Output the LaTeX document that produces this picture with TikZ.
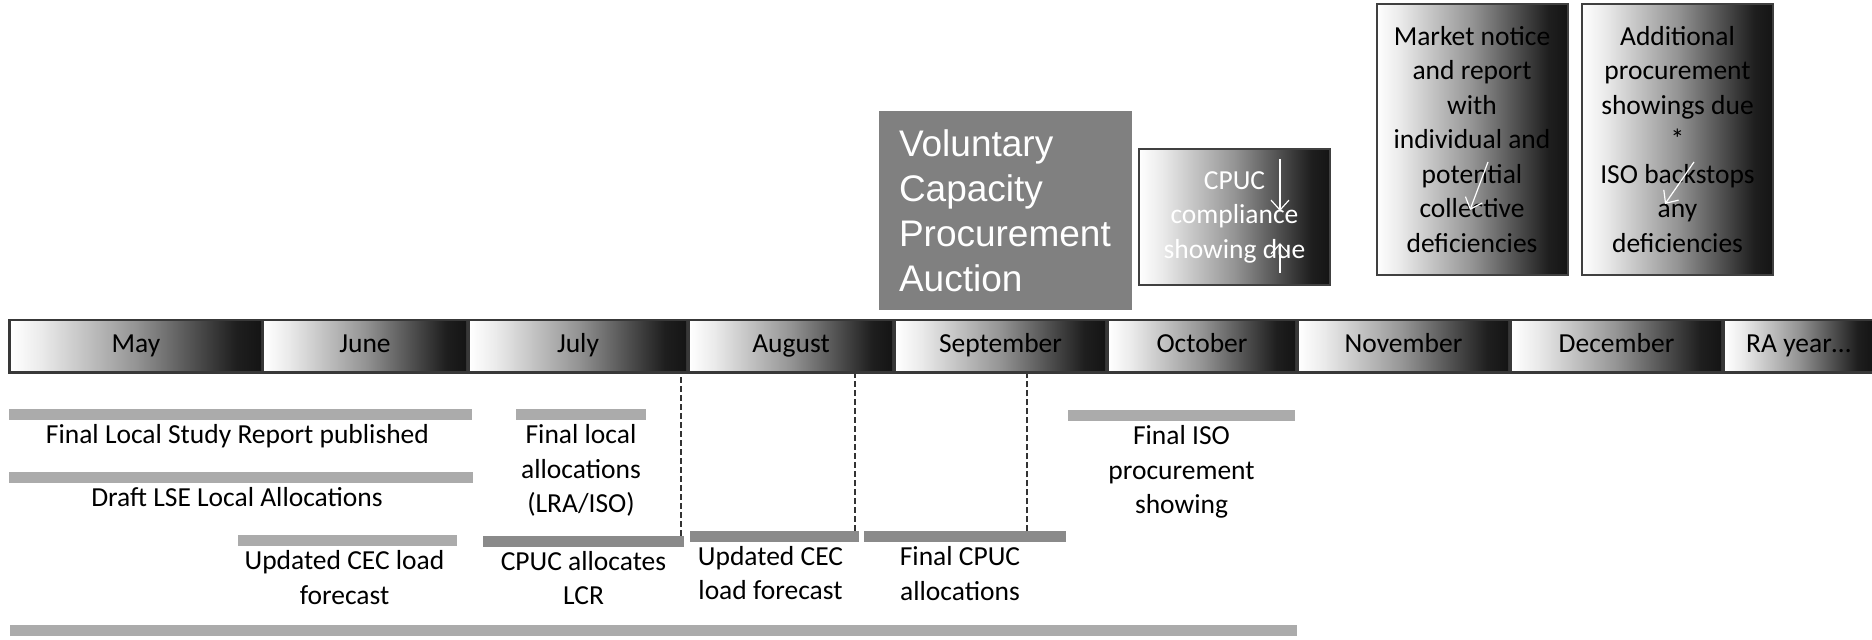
\documentclass[tikz,border=0pt]{standalone}
\usepackage{fontspec}
\setmainfont{Carlito}
\newfontfamily\auctionfont{Liberation Sans}
\usepackage{tikz}
\usetikzlibrary{arrows.meta,positioning}
\usepackage{xcolor}

\pgfdeclarehorizontalshading{fade}{100bp}{color(0bp)=(white); color(25bp)=(white); color(31bp)=(black!8); color(50bp)=(black!42); color(63bp)=(black!72); color(70bp)=(black!88); color(75bp)=(black!92); color(100bp)=(black!92)}

\begin{document}
\begin{tikzpicture}[
  x=1pt, y=1pt,
  every node/.style={font=\fontsize{27.5}{34.5}\selectfont},
  month/.style={shading=fade, minimum height=49pt, inner sep=0pt, text=black, text height=18pt, text depth=6pt},
  tall/.style={draw=black!75, line width=2pt, shading=fade, align=center, inner sep=0pt, minimum width=191pt},
  vote/.style={fill=black!50, text=white, align=left, text width=213pt, minimum height=199pt, inner xsep=20pt, inner ysep=0pt, font=\auctionfont\fontsize{37}{45}\selectfont},
  evbar/.style={fill=black!33, minimum height=11pt, inner sep=0pt},
  evbard/.style={evbar, fill=black!46},
  evt/.style={align=center, inner sep=0pt},
  guide/.style={dash pattern=on 6pt off 3pt, line width=2.5pt, black!80},
  squeeze/.style={-{Straight Barb[length=10pt,width=18pt]}, white, line width=1.2pt}
]
\useasboundingbox (0,0) rectangle (1872,640);

\node[fill=black!78, minimum width=1864pt, minimum height=55pt, inner sep=0pt] (strip) at (940,293.5) {};
\foreach \xa/\xb/\mon [count=\i, evaluate=\xa as \xw using \xb-\xa, evaluate=\xa as \xm using (\xa+\xb)/2] in
  {11/261/May, 264/466/June, 470/686/July, 690/892/August, 896/1105/September,
   1109/1295/October, 1299/1508/November, 1512/1721/December, 1725/1872/RA year…}
  \node[month, minimum width=\xw pt] (m\i) at (\xm,293.5) {\mon};

\node[vote] (auction) at (1005.5,429.5) {Voluntary\\Capacity\\Procurement\\Auction};
\node[tall, text=white, minimum height=136pt] (cpuc) at (1234.5,423) {CPUC\\compliance\\showing due};
\node[tall, minimum height=271pt] (notice) at (1472,500.5) {Market notice\\and report\\with\\individual and\\potential\\collective\\deficiencies};
\node[tall, minimum height=271pt] (extra) at (1677.5,500.5) {Additional\\procurement\\showings due\\*\\ISO backstops\\any\\deficiencies};

\draw[squeeze] ([shift={(-51,-11)}]cpuc.north east) -- ++(0,-52);
\draw[squeeze] ([shift={(-51,13)}]cpuc.south east) -- ++(0,30);
\draw[squeeze] ([shift={(16,-22.5)}]notice.center) -- ++(-18,-48);
\draw[squeeze] ([shift={(16.5,-22.5)}]extra.center) -- ++(-29,-42);

\node[evbar, minimum width=463pt] (b1) at (240.5,225.5) {};
\node[evbar, minimum width=130pt] (b2) at (581,225) {};
\node[evbar, minimum width=227pt] (b3) at (1181.5,224) {};
\node[evbar, minimum width=464pt] (b4) at (241,162) {};
\node[evbar, minimum width=219pt] (b5) at (347.5,99) {};
\node[evbard, minimum width=201pt] (b6) at (583.5,98.5) {};
\node[evbard, minimum width=169pt] (b7) at (774.5,103.5) {};
\node[evbard, minimum width=202pt] (b8) at (965,103) {};
\node[evbar, minimum width=1287pt] (b9) at (653.5,9.5) {};

\node[evt, below=4pt of b1, xshift=-3pt] (t1) {Final Local Study Report published};
\node[evt, below=4pt of b2] (t2) {Final local\\allocations\\(LRA/ISO)};
\node[evt, below=4pt of b3] (t3) {Final ISO\\procurement\\showing};
\node[evt, below=4pt of b4, xshift=-4pt] (t4) {Draft LSE Local Allocations};
\node[evt, below=4pt of b5, xshift=-3pt] (t5) {Updated CEC load\\forecast};
\node[evt, below=4pt of b6] (t6) {CPUC allocates\\LCR};
\node[evt, below=4pt of b7, xshift=-4pt] (t7) {Updated CEC\\load forecast};
\node[evt, below=4pt of b8, xshift=-5pt] (t8) {Final CPUC\\allocations};

\coordinate (g1) at ([xshift=-3pt]b6.north east);
\coordinate (g2) at ([xshift=-4pt]b7.north east);
\coordinate (g3) at ([xshift=-39pt]b8.north east);
\draw[guide] (g1) -- (g1 |- strip.south);
\draw[guide] (g2) -- (g2 |- strip.south);
\draw[guide] (g3) -- (g3 |- strip.south);

\end{tikzpicture}
\end{document}
